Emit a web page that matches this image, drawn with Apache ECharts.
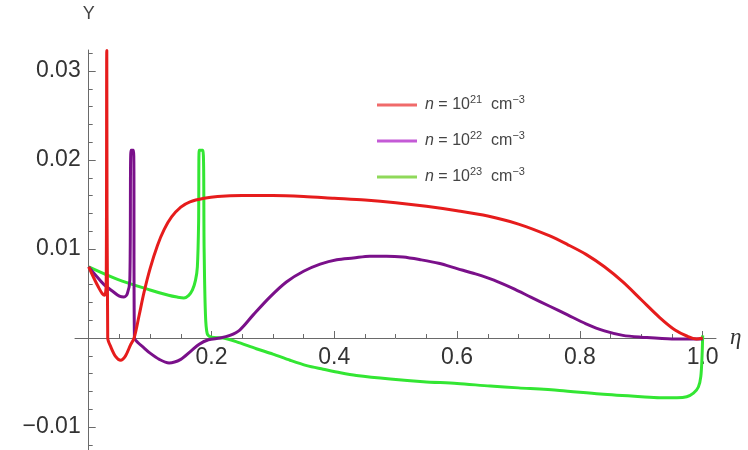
<!DOCTYPE html>
<html><head><meta charset="utf-8">
<script src="https://cdn.jsdelivr.net/npm/echarts@6/dist/echarts.min.js"></script>
<style>html,body{margin:0;padding:0;background:#fff}#c{width:748px;height:450px}</style>
</head><body><div id="c"></div>
<script>
// ---- data ----
const seriesNames = ['n = 10^21 cm^-3', 'n = 10^22 cm^-3', 'n = 10^23 cm^-3'];
const exponents = ['21', '22', '23'];

const red21 = [
  [0,0.0080],[0.008,0.0068],[0.016,0.0057],[0.022,0.0050],[0.026,0.0048],[0.0285,0.0060],
  [0.0295,0.0323],[0.0305,0.0323],[0.031,0.0],[0.036,-0.0010],[0.044,-0.0021],[0.052,-0.0025],
  [0.060,-0.0020],[0.068,-0.0008],[0.074,0.0],[0.082,0.0025],[0.090,0.0051],[0.100,0.0078],
  [0.112,0.0104],[0.123,0.0122],[0.135,0.0136],[0.150,0.0147],[0.165,0.0153],[0.188,0.0157],
  [0.21,0.0159],[0.25,0.0160],[0.30,0.0160],[0.35,0.0159],[0.40,0.0157],[0.45,0.0155],
  [0.50,0.0152],[0.55,0.0148],[0.60,0.0143],[0.65,0.0137],[0.70,0.0128],[0.75,0.0115],
  [0.78,0.0105],[0.81,0.0094],[0.84,0.0080],[0.87,0.0063],[0.90,0.0043],[0.93,0.0023],
  [0.955,0.0009],[0.975,0.0002],[0.99,-0.0001],[1.0,0.0]
];
const purple22 = [
  [0,0.0080],[0.012,0.0070],[0.025,0.0060],[0.04,0.0052],[0.05,0.0047],[0.0575,0.0046],
  [0.063,0.0050],[0.067,0.0065],[0.069,0.0211],[0.073,0.0211],[0.0745,0.0],[0.08,-0.0005],
  [0.09,-0.0011],[0.10,-0.0017],[0.115,-0.0024],[0.131,-0.0028],[0.15,-0.0024],[0.166,-0.0015],
  [0.18,-0.0007],[0.195,-0.0002],[0.214,0.0],[0.23,0.0003],[0.246,0.0009],[0.268,0.0026],
  [0.295,0.0046],[0.322,0.0063],[0.350,0.0075],[0.377,0.0083],[0.404,0.0088],[0.431,0.0090],
  [0.458,0.0092],[0.485,0.0092],[0.512,0.0091],[0.54,0.0088],[0.57,0.0084],[0.60,0.0078],
  [0.63,0.0072],[0.66,0.0065],[0.69,0.0056],[0.72,0.0046],[0.75,0.0036],[0.78,0.0026],
  [0.81,0.0016],[0.84,0.0008],[0.87,0.0003],[0.90,0.0001],[0.95,-0.0001],[1.0,-0.0001]
];
const green23 = [
  [0,0.0080],[0.047,0.0066],[0.10,0.0054],[0.13,0.0048],[0.144,0.0046],[0.155,0.0045],
  [0.163,0.0048],[0.169,0.0054],[0.174,0.0065],[0.177,0.0080],[0.179,0.0129],[0.180,0.0211],
  [0.186,0.0211],[0.188,0.0100],[0.190,0.0030],[0.193,0.0005],[0.20,0.0001],[0.219,0.0],
  [0.24,-0.0004],[0.273,-0.0012],[0.30,-0.0018],[0.328,-0.0025],[0.355,-0.0031],[0.382,-0.0035],
  [0.41,-0.0039],[0.436,-0.0042],[0.491,-0.0046],[0.545,-0.0049],[0.60,-0.0051],[0.654,-0.0054],
  [0.70,-0.0056],[0.767,-0.0059],[0.833,-0.0063],[0.90,-0.0066],[0.93,-0.0067],[0.958,-0.0067],
  [0.974,-0.0066],[0.985,-0.0062],[0.993,-0.0055],[0.997,-0.0043],[0.999,-0.0020],[1.0,0.0003]
];

const xTickLabels = [0.2, 0.4, 0.6, 0.8, 1.0];
const yTickLabels = [-0.01, 0.01, 0.02, 0.03];
const xMajorTicks = [0, 0.2, 0.4, 0.6, 0.8, 1.0];
const yMajorTicks = [-0.01, 0, 0.01, 0.02, 0.03];

// ---- layout ----
const W = 748, H = 450;
const G = { left: 75, right: 32, top: 50, bottom: 0 };
const XMIN = -0.0223, XMAX = 1.0217, YMIN = -0.01258, YMAX = 0.03236;
const gw = W - G.left - G.right, gh = H - G.top - G.bottom;
// axes cross at the origin: shift them from the grid edges to the zero positions
const xAxisOffset = -gh * (0 - YMIN) / (YMAX - YMIN);
const yAxisOffset = -gw * (0 - XMIN) / (XMAX - XMIN);

const xMinor = [], yMinor = [];
for (let i = 1; i <= 20; i++) { if (i % 4 !== 0) xMinor.push(+(i * 0.05).toFixed(3)); }
for (let i = -6; i <= 16; i++) { if (i % 5 !== 0) yMinor.push(+(i * 0.002).toFixed(4)); }

const colors = ['#e61c1c', '#7a108a', '#33e633'];
const legendColors = ['#f06a6a', '#c45ad6', '#8fd95a'];
const FONT = 'Liberation Sans, Arial, sans-serif';
const axisColor = '#6a6a6a';

const chart = echarts.init(document.getElementById('c'));
chart.setOption({
  animation: false,
  backgroundColor: '#fff',
  grid: { left: G.left, right: G.right, top: G.top, bottom: G.bottom, containLabel: false, outerBoundsMode: 'none' },
  legend: {
    orient: 'vertical', left: 372, top: 89, itemGap: 14,
    icon: 'rect', itemWidth: 40, itemHeight: 3,
    data: seriesNames.map((n, i) => ({ name: n, itemStyle: { color: legendColors[i] } })),
    formatter: function (name) {
      const i = seriesNames.indexOf(name);
      return '{i|n} = 10{s|' + exponents[i] + '}  cm{s|\u22123}';
    },
    textStyle: {
      fontFamily: FONT, fontSize: 16, color: '#444', lineHeight: 22, padding: [0, 0, 0, 3],
      rich: {
        i: { fontStyle: 'italic', fontSize: 16, fontFamily: FONT, color: '#444' },
        s: { fontSize: 11, fontFamily: FONT, color: '#444', verticalAlign: 'top', lineHeight: 12 }
      }
    }
  },
  xAxis: [{
    type: 'value', min: XMIN, max: XMAX, position: 'bottom', offset: xAxisOffset,
    name: '\u03b7', nameLocation: 'end', nameGap: 14,
    nameTextStyle: { fontFamily: 'Liberation Serif, serif', fontStyle: 'italic', fontSize: 23, color: '#333', padding: [10, 0, 0, 0] },
    axisLine: { show: true, onZero: false, lineStyle: { color: axisColor, width: 1 } },
    axisTick: { show: true, inside: true, length: 7, customValues: xMajorTicks, lineStyle: { color: axisColor } },
    axisLabel: { show: true, customValues: xTickLabels, margin: 8, fontFamily: FONT, fontSize: 23, color: '#333',
      formatter: v => v.toFixed(1) },
    splitLine: { show: false }
  }, {
    type: 'value', min: XMIN, max: XMAX, position: 'bottom', offset: xAxisOffset,
    axisLine: { show: false, onZero: false },
    axisTick: { show: true, inside: true, length: 4, customValues: xMinor, lineStyle: { color: axisColor } },
    axisLabel: { show: false },
    splitLine: { show: false }
  }],
  yAxis: [{
    type: 'value', min: YMIN, max: YMAX, position: 'left', offset: yAxisOffset,
    name: 'Y', nameLocation: 'end', nameGap: 27,
    nameTextStyle: { fontFamily: FONT, fontSize: 18, color: '#444' },
    axisLine: { show: true, onZero: false, lineStyle: { color: axisColor, width: 1 } },
    axisTick: { show: true, inside: true, length: 7, customValues: yMajorTicks, lineStyle: { color: axisColor } },
    axisLabel: { show: true, customValues: yTickLabels, margin: 8, fontFamily: FONT, fontSize: 23, color: '#333',
      formatter: v => (v < 0 ? '\u2212' + Math.abs(v).toFixed(2) : v.toFixed(2)) },
    splitLine: { show: false }
  }, {
    type: 'value', min: YMIN, max: YMAX, position: 'left', offset: yAxisOffset,
    axisLine: { show: false, onZero: false },
    axisTick: { show: true, inside: true, length: 4, customValues: yMinor, lineStyle: { color: axisColor } },
    axisLabel: { show: false },
    splitLine: { show: false }
  }],
  series: [red21, purple22, green23].map((d, i) => ({
    name: seriesNames[i], type: 'line', data: d, xAxisIndex: 0, yAxisIndex: 0,
    showSymbol: false, symbol: 'none', smooth: 0.3, clip: false,
    lineStyle: { color: colors[i], width: 3, join: 'round' }, itemStyle: { color: colors[i] }, z: 3 - i
  }))
});
</script>
</body></html>
